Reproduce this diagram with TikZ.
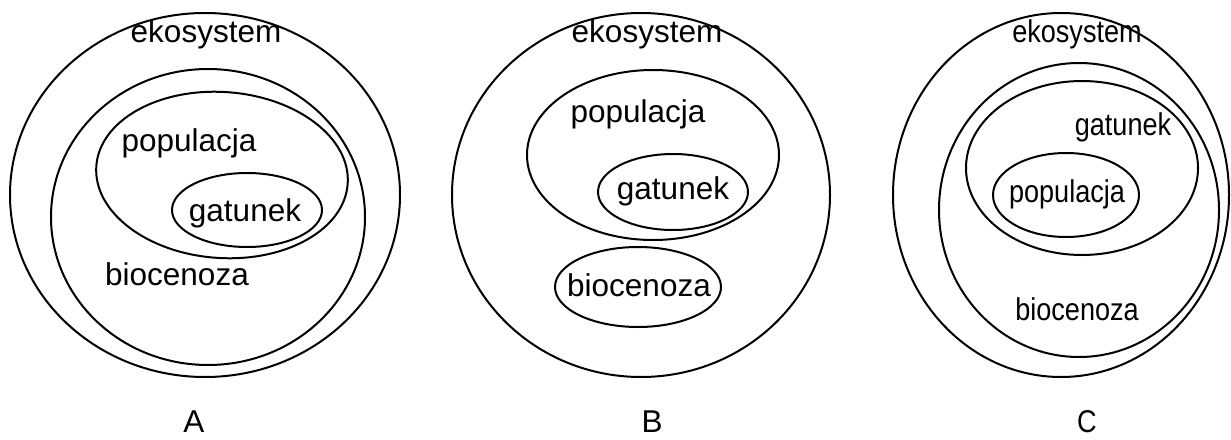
\documentclass[tikz,border=0pt]{standalone}
\usepackage{fontspec}
\setmainfont{Liberation Sans}
\usepackage{tikz}

\begin{document}
\begin{tikzpicture}[x=1pt,y=-1pt,
    ring/.style={line width=2pt},
    lbl/.style={anchor=base,inner sep=0pt,font=\fontsize{31.5}{36}\selectfont},
    thin/.style={lbl,xscale=0.86}]
                    \useasboundingbox (0,0) rectangle (1231,439);

                    % A
                    \draw[ring] (205,195) ellipse [x radius=195, y radius=182];
                    \draw[ring] (208,217) ellipse [x radius=157, y radius=148];
                    \draw[ring,rotate around={-4:(222,175)}] (222,175) ellipse [x radius=126, y radius=83];
                    \draw[ring] (247,210) ellipse [x radius=75, y radius=37];
                    \node[lbl] (ekoA) at (206,42) {ekosystem};
                    \node[lbl] (popA) at (189,151) {populacja};
                    \node[lbl] (gatA) at (245,221) {gatunek};
                    \node[lbl] (bioA) at (177,285) {biocenoza};
                    \node[lbl] (A) at (194,432) {A};

                    % B
                    \draw[ring] (641,195) ellipse [x radius=189, y radius=182];
                    \draw[ring] (653,155) ellipse [x radius=126, y radius=85];
                    \draw[ring] (673,192) ellipse [x radius=75, y radius=38];
                    \draw[ring] (638,287) ellipse [x radius=83, y radius=40];
                    \node[lbl] (ekoB) at (647,42) {ekosystem};
                    \node[lbl] (popB) at (638,122) {populacja};
                    \node[lbl] (gatB) at (673,199) {gatunek};
                    \node[lbl] (bioB) at (639,296) {biocenoza};
                    \node[lbl] (B) at (652,432) {B};

                    % C
                    \draw[ring] (1061,195) ellipse [x radius=168, y radius=182];
                    \draw[ring] (1079,210) ellipse [x radius=140, y radius=147];
                    \draw[ring] (1082,168) ellipse [x radius=116, y radius=87];
                    \draw[ring] (1066,195) ellipse [x radius=73, y radius=42];
                    \node[thin] (ekoC) at (1077,42) {ekosystem};
                    \node[thin] (gatC) at (1123,135) {gatunek};
                    \node[thin] (popC) at (1067,202) {populacja};
                    \node[thin] (bioC) at (1077,320) {biocenoza};
                    \node[thin] (C) at (1087,432) {C};
                \end{tikzpicture}
\end{document}
